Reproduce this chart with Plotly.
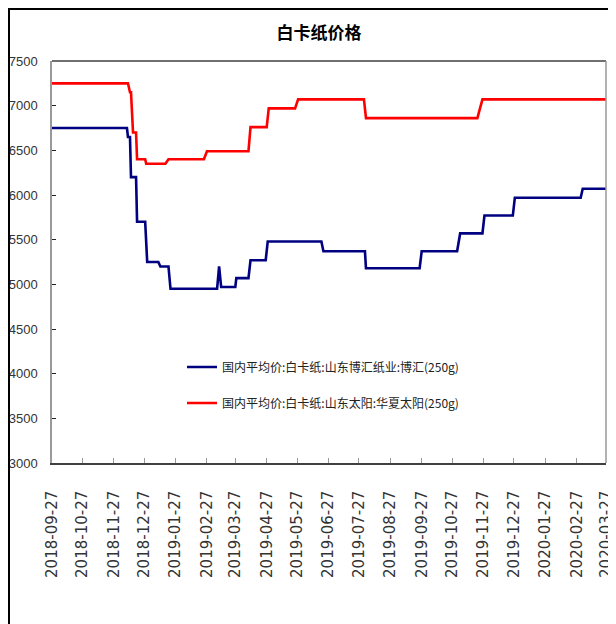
import plotly.graph_objects as go

# ---- data ----
title_text = "白卡纸价格"
name_bohui = "国内平均价:白卡纸:山东博汇纸业:博汇(250g)"
name_taiyang = "国内平均价:白卡纸:山东太阳:华夏太阳(250g)"

bohui_dates = ["2018-09-27", "2018-12-10", "2018-12-11", "2018-12-13", "2018-12-14",
               "2018-12-19", "2018-12-20", "2018-12-28", "2018-12-30", "2019-01-10",
               "2019-01-12", "2019-01-20", "2019-01-22", "2019-03-09", "2019-03-11",
               "2019-03-13", "2019-03-27", "2019-03-28", "2019-04-09", "2019-04-11",
               "2019-04-26", "2019-04-28", "2019-06-20", "2019-06-22", "2019-08-02",
               "2019-08-03", "2019-09-25", "2019-09-27", "2019-11-01", "2019-11-04",
               "2019-11-26", "2019-11-28", "2019-12-26", "2019-12-28", "2020-03-02",
               "2020-03-04", "2020-03-27"]
bohui_values = [6750, 6750, 6650, 6650, 6200,
                6200, 5700, 5700, 5250, 5250,
                5200, 5200, 4950, 4950, 5200,
                4970, 4970, 5070, 5070, 5270,
                5270, 5480, 5480, 5370, 5370,
                5180, 5180, 5370, 5370, 5570,
                5570, 5770, 5770, 5970, 5970,
                6070, 6070]

taiyang_dates = ["2018-09-27", "2018-12-11", "2018-12-13", "2018-12-14", "2018-12-16",
                 "2018-12-19", "2018-12-20", "2018-12-28", "2018-12-29", "2019-01-17",
                 "2019-01-20", "2019-02-24", "2019-02-27", "2019-04-09", "2019-04-11",
                 "2019-04-27", "2019-04-29", "2019-05-25", "2019-05-28", "2019-08-01",
                 "2019-08-03", "2019-11-21", "2019-11-26", "2020-03-27"]
taiyang_values = [7250, 7250, 7150, 7150, 6700,
                  6700, 6400, 6400, 6350, 6350,
                  6400, 6400, 6490, 6490, 6760,
                  6760, 6970, 6970, 7070, 7070,
                  6860, 6860, 7070, 7070]

tick_dates = ["2018-09-27", "2018-10-27", "2018-11-27", "2018-12-27", "2019-01-27",
              "2019-02-27", "2019-03-27", "2019-04-27", "2019-05-27", "2019-06-27",
              "2019-07-27", "2019-08-27", "2019-09-27", "2019-10-27", "2019-11-27",
              "2019-12-27", "2020-01-27", "2020-02-27", "2020-03-27"]
y_ticks = [3000, 3500, 4000, 4500, 5000, 5500, 6000, 6500, 7000, 7500]

# ---- figure ----
# The page body has an 8px margin, so the figure is sized to fit the window
# and all positions below are in figure pixels (screen pixels - 8).
W, H = 608, 616
L, R, T, B = 44, 10, 53, 161

fig = go.Figure()
fig.add_trace(go.Scatter(x=bohui_dates, y=bohui_values, mode="lines", name=name_bohui,
                         line=dict(color="#000080", width=2.6), legend="legend",
                         showlegend=True))
fig.add_trace(go.Scatter(x=taiyang_dates, y=taiyang_values, mode="lines", name=name_taiyang,
                         line=dict(color="#FF0000", width=2.6), legend="legend2",
                         showlegend=True))

cjk = "Noto Sans CJK SC"
legend_common = dict(font=dict(family=cjk, size=12, color="#222222"),
                     bgcolor="rgba(0,0,0,0)", borderwidth=0,
                     xanchor="left", yanchor="middle",
                     itemwidth=30, tracegroupgap=0, visible=True)

pw = W - L - R
ph = H - T - B


def px_x(px):
    return (px - L) / pw


def px_y(py):
    return 1 - (py - T) / ph


fig.update_layout(
    width=W, height=H,
    showlegend=True,
    margin=dict(l=L, r=R, t=T, b=B, pad=0, autoexpand=False),
    paper_bgcolor="white", plot_bgcolor="white",
    title=dict(text=title_text, x=311 / W, xref="container", xanchor="center",
               y=1 - 25 / H, yref="container", yanchor="middle",
               font=dict(family=cjk, size=17, color="#000000", weight="bold")),
    legend=dict(x=px_x(174), y=px_y(359), **legend_common),
    legend2=dict(x=px_x(174), y=px_y(395), **legend_common),
    xaxis=dict(type="date", range=["2018-09-27", "2020-03-27"],
               tickvals=tick_dates, ticktext=tick_dates, tickangle=-90,
               ticks="inside", ticklen=5, tickcolor="#999999", tickwidth=1,
               showline=True, linecolor="#404040", linewidth=1.5,
               showgrid=False, zeroline=False, automargin=False,
               ticklabelstandoff=20,
               tickfont=dict(family="DejaVu Sans", size=15, color="#333333")),
    yaxis=dict(range=[3000, 7500], tickvals=y_ticks,
               ticks="inside", ticklen=4, tickcolor="#222222", tickwidth=1,
               showline=True, linecolor="#999999", linewidth=1.5,
               showgrid=False, zeroline=False, automargin=False,
               ticklabelstandoff=10,
               tickfont=dict(family="Liberation Sans, Arial, sans-serif",
                             size=13, color="#333333")),
    shapes=[
        # top border of plot area
        dict(type="line", xref="paper", yref="paper", x0=0, x1=1, y0=1, y1=1,
             line=dict(color="#404040", width=1.5)),
        # right border of plot area
        dict(type="line", xref="paper", yref="paper", x0=1, x1=1, y0=0, y1=1,
             line=dict(color="#999999", width=1.5)),
        # outer chart frame
        dict(type="rect", xref="paper", yref="paper",
             x0=px_x(1), x1=px_x(640), y0=px_y(640), y1=px_y(1),
             line=dict(color="#000000", width=2), fillcolor="rgba(0,0,0,0)", layer="above"),
    ],
)

fig.write_html("out.html")
